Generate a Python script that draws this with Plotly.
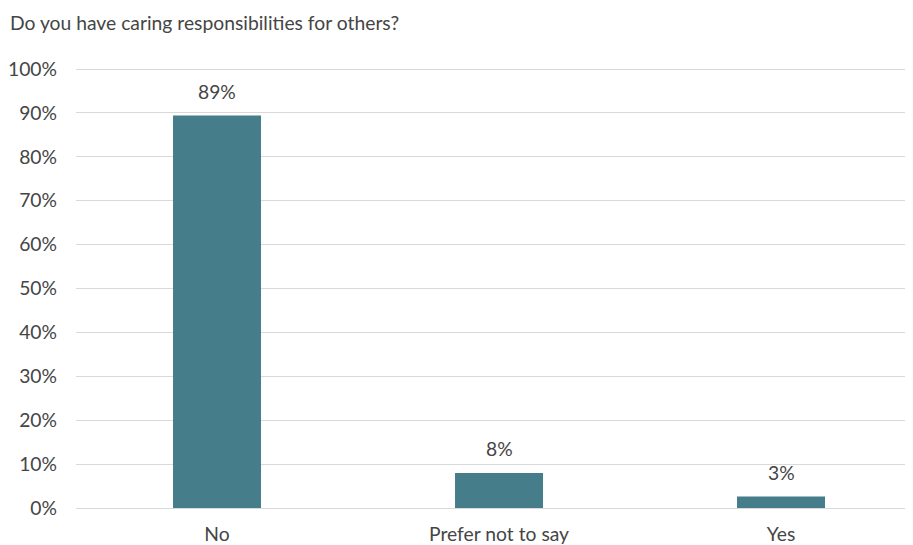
import plotly.graph_objects as go

categories = ["No", "Prefer not to say", "Yes"]
shares = [0.894, 0.080, 0.026]
y_ticks = [i / 10 for i in range(11)]
y_tick_labels = [f"{i * 10}%" for i in range(11)]
title_text = "Do you have caring responsibilities for others?"

FONT = "Lato, 'Open Sans', sans-serif"
TXT = "#454545"
FS = 19.3

# the page body adds an 8px offset, so the figure is sized to fit the window
W, H = 905, 537

fig = go.Figure()
fig.add_trace(go.Bar(
    x=categories, y=shares,
    marker=dict(color="#457E8A", line=dict(width=0)),
    width=0.312,
    hoverinfo="skip",
))

for c, v in zip(categories, shares):
    fig.add_annotation(x=c, y=v, text=f"{v:.0%}", showarrow=False,
                       yanchor="middle", yshift=24,
                       font=dict(family=FONT, size=FS, color=TXT))

fig.update_layout(
    width=W, height=H,
    margin=dict(l=68, r=0, t=60, b=37, autoexpand=False),
    paper_bgcolor="white", plot_bgcolor="white",
    showlegend=False,
    font=dict(family=FONT, size=FS, color=TXT),
    title=dict(text=title_text, xref="container", yref="container",
               x=2 / W, y=1 - 15 / H, xanchor="left", yanchor="middle",
               font=dict(family=FONT, size=FS, color=TXT)),
)
fig.update_xaxes(range=[-0.5, 2.468], showgrid=False, showline=False,
                 ticks="", ticklabelstandoff=13, fixedrange=True)
fig.update_yaxes(range=[0, 1.0023], tickvals=y_ticks, ticktext=y_tick_labels,
                 showgrid=True, gridcolor="#D9D9D9", gridwidth=1,
                 zeroline=True, zerolinecolor="#D9D9D9", zerolinewidth=1,
                 showline=False, ticks="", ticklabelstandoff=18, fixedrange=True)

fig.write_html("out.html")
